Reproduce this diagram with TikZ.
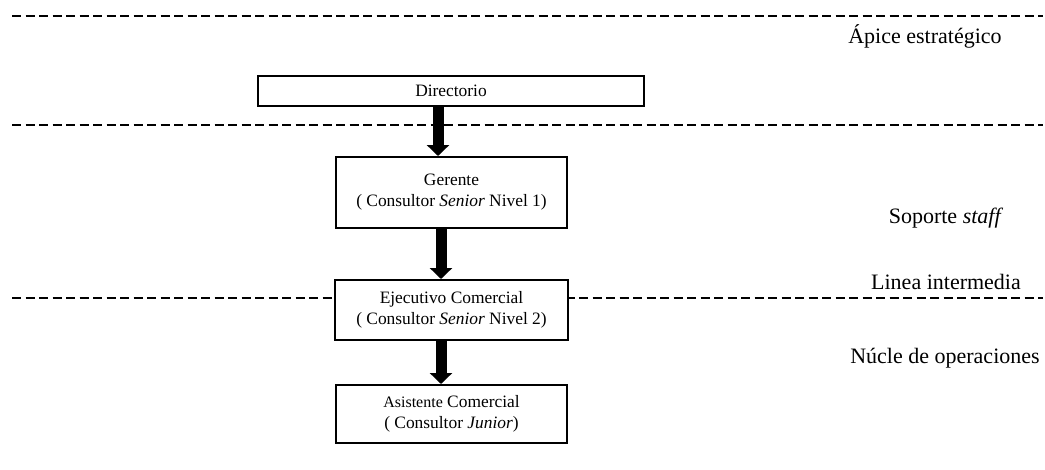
\documentclass[tikz,border=0pt]{standalone}
\usepackage{fontspec}
\setmainfont{Liberation Serif}
\usetikzlibrary{arrows.meta}
\begin{document}
\begin{tikzpicture}[x=1pt,y=-1pt,
  every node/.style={font=\fontsize{17.4}{21}\selectfont, inner sep=0pt},
  orgbox/.style={draw, line width=2pt, fill=white, align=center},
  levelline/.style={line width=2pt, dash pattern=on 9pt off 4.5pt},
  bigarrow/.style={line width=11pt, -{Triangle[width=22pt,length=11pt]}},
  levellabel/.style={anchor=center, font=\fontsize{22}{26}\selectfont}]
\useasboundingbox (0,0) rectangle (1045,469);

% level boundaries
\coordinate (l1a) at (12,16);  \coordinate (l1b) at (1043,16);
\coordinate (l2a) at (12,125); \coordinate (l2b) at (1043,125);
\coordinate (l3a) at (12,298); \coordinate (l3b) at (1043,298);
\draw[levelline] (l1a) -- (l1b);
\draw[levelline] (l2a) -- (l2b);
\draw[levelline] (l3a) -- (l3b);

% hierarchy boxes
\node[orgbox, minimum width=386pt, minimum height=30pt] (dir) at (451,91) {Directorio};
\node[orgbox, minimum width=231pt, minimum height=71pt] (ger) at (451.5,192.5)
  {Gerente\\( Consultor \textit{Senior} Nivel 1)};
\node[orgbox, minimum width=233pt, minimum height=60pt] (eje) at (451.5,310)
  {Ejecutivo Comercial\\( Consultor \textit{Senior} Nivel 2)};
\node[orgbox, minimum width=231pt, minimum height=58pt] (asi) at (451.5,414)
  {{\fontsize{16}{19}\selectfont Asistente} Comercial\\( Consultor \textit{Junior})};

% reporting arrows
\draw[bigarrow] (438,0 |- dir.south) -- (438,0 |- ger.north);
\draw[bigarrow] (441,0 |- ger.south) -- (441,0 |- eje.north);
\draw[bigarrow] (441,0 |- eje.south) -- (441,0 |- asi.north);

% level names
\node[levellabel] (n1) at (925,36) {Ápice estratégico};
\node[levellabel] (n2) at (946,218) {Soporte \textit{staff}};
\node[levellabel] (n3) at (946,282) {Linea intermedia};
\node[levellabel] (n4) at (945,358) {Núcle de operaciones};
\end{tikzpicture}
\end{document}
